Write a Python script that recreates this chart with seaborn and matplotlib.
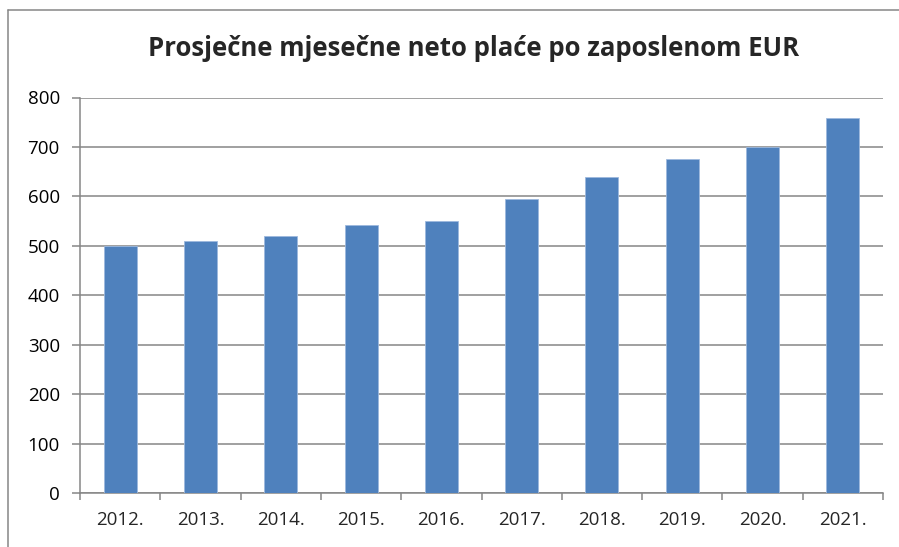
import matplotlib
matplotlib.use("Agg")
import matplotlib.pyplot as plt
import seaborn as sns
import pandas as pd
import numpy as np
from matplotlib.lines import Line2D

godine = ["2012.", "2013.", "2014.", "2015.", "2016.", "2017.", "2018.", "2019.", "2020.", "2021."]
place = [499, 509, 520, 542, 550, 595, 640, 676, 699, 759]
y_ticks = [0, 100, 200, 300, 400, 500, 600, 700, 800]

df = pd.DataFrame({"godina": godine, "placa": place})

sns.set_style("white")
plt.rcParams["font.family"] = ["Open Sans", "DejaVu Sans"]

siva = "#868686"
fig = plt.figure(figsize=(8.99, 5.47), dpi=100)
ax = fig.add_axes([80 / 899, 54 / 547, 803 / 899, 395.5 / 547])

sns.barplot(data=df, x="godina", y="placa", color="#4F81BD", saturation=1,
            width=0.41, ax=ax, zorder=3, edgecolor="#9DB9DE", linewidth=0.6)

ax.set_ylim(0, 800)
ax.set_xlim(-0.5, len(godine) - 0.5)
ax.set_yticks(y_ticks)
ax.yaxis.grid(True, color=siva, linewidth=1.1, zorder=0)
ax.set_axisbelow(True)
ax.set_xlabel("")
ax.set_ylabel("")

for s in ["top", "right"]:
    ax.spines[s].set_visible(False)
for s in ["left", "bottom"]:
    ax.spines[s].set_color(siva)
    ax.spines[s].set_linewidth(1.1)

ax.tick_params(axis="y", length=5.5, color=siva, width=1.1, labelsize=13.5, pad=9,
               left=True, labelcolor="black")
ax.tick_params(axis="x", which="major", length=0, labelsize=13.5, pad=13)
ax.set_xticks(np.arange(-0.5, len(godine)), minor=True)
ax.tick_params(axis="x", which="minor", length=5, color=siva, width=1.1, bottom=True)

ax.set_title("Prosječne mjesečne neto plaće po zaposlenom EUR",
             fontsize=18.5, fontweight="bold", pad=30, x=0.49)

# okvir grafikona
fig.add_artist(Line2D([8 / 899, 8 / 899], [0, 1 - 10 / 547], color=siva, linewidth=1.1))
fig.add_artist(Line2D([8 / 899, 1], [1 - 10 / 547, 1 - 10 / 547], color=siva, linewidth=1.1))

fig.savefig("out.png", dpi=100)
